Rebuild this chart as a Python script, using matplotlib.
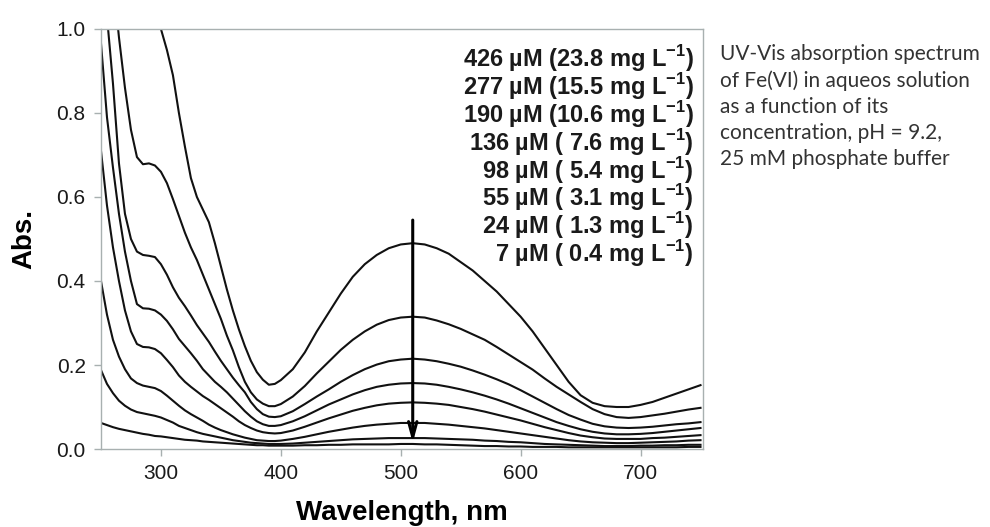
import matplotlib
matplotlib.use("Agg")
import matplotlib.pyplot as plt

# wavelength grid (nm)
wl = [250, 255, 260, 265, 270, 275, 280, 285, 290, 295, 300, 305, 310, 315, 320,
      325, 330, 335, 340, 345, 350, 355, 360, 365, 370, 375, 380, 385, 390, 395,
      400, 410, 420, 430, 440, 450, 460, 470, 480, 490, 500, 510, 520, 530, 540,
      550, 560, 570, 580, 590, 600, 610, 620, 630, 640, 650, 660, 670, 680, 690,
      700, 710, 720, 730, 740, 750]

# absorbance, one list per concentration
abs_426 = [1.9, 1.8, 1.7, 1.6, 1.5, 1.4, 1.3, 1.2, 1.12, 1.06, 1.00, 0.95, 0.89, 0.80, 0.72,
           0.645, 0.60, 0.57, 0.54, 0.49, 0.435, 0.38, 0.33, 0.285, 0.245, 0.21, 0.183, 0.165, 0.153, 0.155,
           0.164, 0.19, 0.23, 0.28, 0.325, 0.37, 0.41, 0.44, 0.462, 0.478, 0.487, 0.49, 0.487, 0.478, 0.465,
           0.445, 0.425, 0.40, 0.375, 0.345, 0.315, 0.28, 0.24, 0.20, 0.16, 0.128, 0.11, 0.102, 0.10, 0.10,
           0.105, 0.112, 0.122, 0.132, 0.142, 0.152]
abs_277 = [1.5, 1.3, 1.12, 0.98, 0.86, 0.76, 0.695, 0.678, 0.68, 0.675, 0.66, 0.633, 0.595, 0.555, 0.515,
           0.48, 0.45, 0.415, 0.38, 0.345, 0.31, 0.27, 0.235, 0.195, 0.16, 0.135, 0.118, 0.108, 0.102, 0.102,
           0.107, 0.125, 0.15, 0.18, 0.208, 0.236, 0.26, 0.28, 0.296, 0.307, 0.313, 0.315, 0.313, 0.306, 0.297,
           0.286, 0.273, 0.26, 0.243, 0.225, 0.207, 0.189, 0.168, 0.148, 0.13, 0.112, 0.095, 0.083, 0.076, 0.074,
           0.076, 0.08, 0.084, 0.089, 0.094, 0.098]
abs_190 = [1.3, 1.03, 0.87, 0.68, 0.56, 0.50, 0.47, 0.462, 0.46, 0.457, 0.44, 0.415, 0.385, 0.36, 0.34,
           0.318, 0.295, 0.275, 0.255, 0.232, 0.21, 0.19, 0.17, 0.152, 0.135, 0.112, 0.095, 0.083, 0.077, 0.076,
           0.078, 0.09, 0.107, 0.125, 0.142, 0.16, 0.176, 0.19, 0.201, 0.209, 0.213, 0.215, 0.213, 0.209, 0.203,
           0.196, 0.187, 0.177, 0.166, 0.154, 0.14, 0.125, 0.11, 0.095, 0.081, 0.07, 0.06, 0.054, 0.051, 0.05,
           0.051, 0.053, 0.056, 0.059, 0.061, 0.064]
abs_136 = [0.966, 0.79, 0.67, 0.56, 0.47, 0.40, 0.345, 0.335, 0.334, 0.33, 0.32, 0.305, 0.285, 0.262, 0.245,
           0.228, 0.21, 0.19, 0.175, 0.16, 0.148, 0.135, 0.12, 0.105, 0.09, 0.077, 0.066, 0.059, 0.055, 0.055,
           0.057, 0.066, 0.078, 0.092, 0.106, 0.118, 0.13, 0.14, 0.148, 0.153, 0.156, 0.157, 0.156, 0.153, 0.148,
           0.142, 0.135, 0.127, 0.118, 0.108, 0.097, 0.086, 0.075, 0.064, 0.055, 0.047, 0.041, 0.037, 0.035, 0.035,
           0.036, 0.038, 0.041, 0.044, 0.047, 0.05]
abs_98 = [0.71, 0.58, 0.48, 0.40, 0.33, 0.28, 0.25, 0.243, 0.242, 0.238, 0.228, 0.212, 0.195, 0.175, 0.16,
          0.148, 0.137, 0.126, 0.117, 0.107, 0.097, 0.087, 0.077, 0.066, 0.057, 0.05, 0.044, 0.04, 0.038, 0.037,
          0.038, 0.044, 0.053, 0.063, 0.073, 0.082, 0.091, 0.098, 0.104, 0.108, 0.11, 0.111, 0.11, 0.108, 0.105,
          0.10, 0.095, 0.089, 0.082, 0.075, 0.068, 0.06, 0.052, 0.045, 0.038, 0.032, 0.028, 0.025, 0.024, 0.024,
          0.024, 0.026, 0.027, 0.029, 0.031, 0.033]
abs_55 = [0.40, 0.32, 0.26, 0.22, 0.19, 0.168, 0.157, 0.151, 0.148, 0.145, 0.138, 0.127, 0.115, 0.103, 0.092,
          0.083, 0.075, 0.067, 0.058, 0.051, 0.045, 0.04, 0.035, 0.031, 0.027, 0.024, 0.021, 0.02, 0.019, 0.019,
          0.02, 0.024, 0.029, 0.035, 0.041, 0.046, 0.051, 0.055, 0.058, 0.06, 0.062, 0.062, 0.062, 0.06, 0.058,
          0.055, 0.052, 0.049, 0.045, 0.041, 0.037, 0.033, 0.029, 0.025, 0.021, 0.018, 0.016, 0.015, 0.014, 0.014,
          0.015, 0.016, 0.017, 0.018, 0.02, 0.021]
abs_24 = [0.188, 0.155, 0.133, 0.115, 0.103, 0.094, 0.088, 0.085, 0.082, 0.079, 0.075, 0.069, 0.063, 0.055, 0.05,
          0.045, 0.04, 0.036, 0.033, 0.03, 0.027, 0.024, 0.021, 0.019, 0.017, 0.015, 0.014, 0.013, 0.012, 0.012,
          0.012, 0.013, 0.015, 0.017, 0.019, 0.021, 0.023, 0.024, 0.025, 0.026, 0.026, 0.026, 0.026, 0.025, 0.024,
          0.023, 0.022, 0.02, 0.019, 0.017, 0.016, 0.014, 0.012, 0.011, 0.01, 0.009, 0.008, 0.007, 0.007, 0.007,
          0.008, 0.008, 0.009, 0.009, 0.01, 0.01]
abs_7 = [0.062, 0.057, 0.052, 0.048, 0.045, 0.042, 0.039, 0.036, 0.034, 0.031, 0.03, 0.028, 0.026, 0.024, 0.022,
         0.021, 0.02, 0.018, 0.017, 0.016, 0.015, 0.014, 0.013, 0.012, 0.011, 0.01, 0.009, 0.009, 0.008, 0.008,
         0.008, 0.008, 0.009, 0.009, 0.01, 0.01, 0.011, 0.011, 0.011, 0.011, 0.012, 0.012, 0.011, 0.011, 0.01,
         0.009, 0.008, 0.007, 0.007, 0.006, 0.006, 0.005, 0.005, 0.005, 0.004, 0.004, 0.004, 0.004, 0.004, 0.004,
         0.004, 0.004, 0.004, 0.004, 0.005, 0.005]

series = [abs_426, abs_277, abs_190, abs_136, abs_98, abs_55, abs_24, abs_7]

labels = [
    r"426 µM (23.8 mg L$^{\mathbf{-1}}$)",
    r"277 µM (15.5 mg L$^{\mathbf{-1}}$)",
    r"190 µM (10.6 mg L$^{\mathbf{-1}}$)",
    r"136 µM ( 7.6 mg L$^{\mathbf{-1}}$)",
    r"98 µM ( 5.4 mg L$^{\mathbf{-1}}$)",
    r"55 µM ( 3.1 mg L$^{\mathbf{-1}}$)",
    r"24 µM ( 1.3 mg L$^{\mathbf{-1}}$)",
    r"7 µM ( 0.4 mg L$^{\mathbf{-1}}$)",
]

note = ("UV-Vis absorption spectrum\nof Fe(VI) in aqueos solution\nas a function of its\n"
        "concentration, pH = 9.2,\n25 mM phosphate buffer")

plt.rcParams["font.family"] = ["Liberation Sans", "DejaVu Sans"]
plt.rcParams["mathtext.fontset"] = "custom"
plt.rcParams["mathtext.rm"] = "Liberation Sans"
plt.rcParams["mathtext.bf"] = "Liberation Sans:bold"

spine_c = "#a8b0b0"
fig = plt.figure(figsize=(9.9, 5.27), dpi=100)
ax = fig.add_axes([0.102, 0.148, 0.608, 0.797])

for ys in series:
    ax.plot(wl, ys, color="#111111", lw=1.5)

ax.annotate("", xy=(510, 0.015), xytext=(510, 0.545),
            arrowprops=dict(arrowstyle="->,head_length=1.1,head_width=0.3",
                            color="black", lw=2.2, shrinkA=0, shrinkB=0))

ax.set_xlim(250, 752)
ax.set_ylim(0, 1.0)
ax.set_xticks([300, 400, 500, 600, 700])
ax.set_yticks([0.0, 0.2, 0.4, 0.6, 0.8, 1.0])
ax.set_yticklabels([f"{v:.1f}" for v in ax.get_yticks()])
for s in ax.spines.values():
    s.set_color(spine_c)
    s.set_linewidth(1.0)
ax.tick_params(direction="out", length=5, width=1, color=spine_c,
               labelsize=15, labelcolor="#1a1a1a", pad=6)

ax.set_xlabel("Wavelength, nm", fontsize=20, fontweight="bold", labelpad=12)
ax.set_ylabel("Abs.", fontsize=20, fontweight="bold", labelpad=14)

y0 = 0.93
for i, lab in enumerate(labels):
    ax.text(0.985, y0 - i * 0.0665, lab, transform=ax.transAxes, ha="right",
            va="center", fontsize=17, fontweight="bold", color="#1a1a1a")

fig.text(0.727, 0.917, note, ha="left", va="top", fontsize=15,
         family=["Lato", "DejaVu Sans"], color="#333333", linespacing=1.38)

fig.savefig("out.png", dpi=100)
